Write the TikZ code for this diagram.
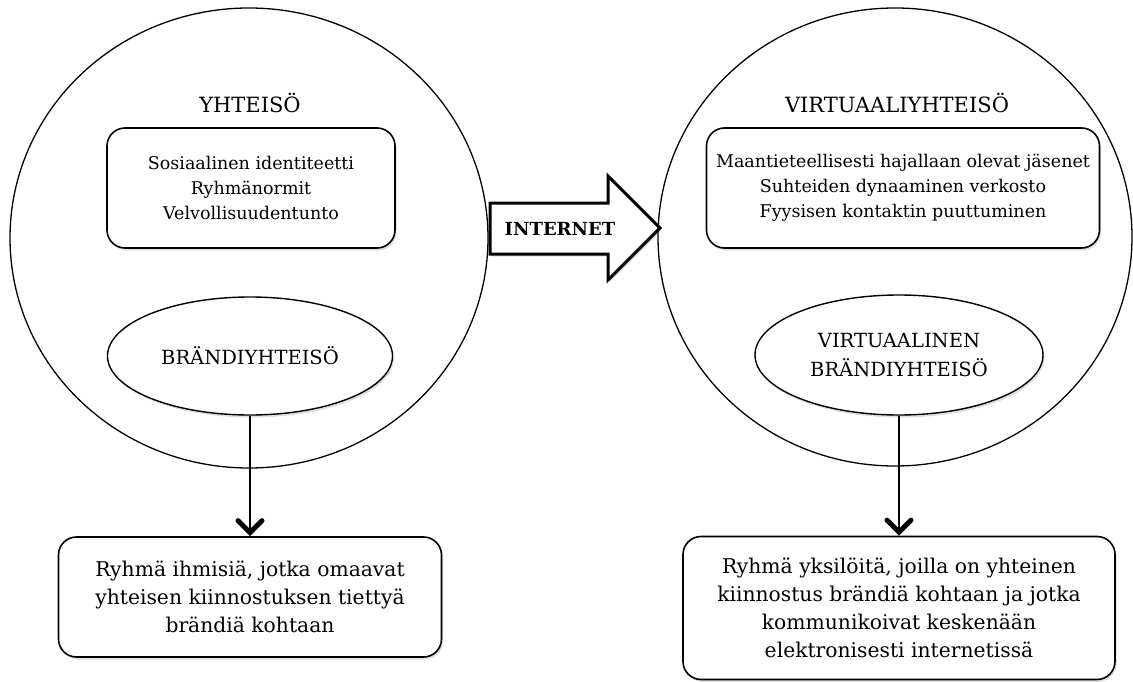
\documentclass[tikz,border=0pt]{standalone}
\usepackage{fontspec}
\setmainfont{DejaVu Serif}
\usetikzlibrary{shapes.geometric,shadows,arrows.meta}
\begin{document}
\begin{tikzpicture}[x=1pt,y=-1pt,
  ring/.style={draw, ellipse, line width=1.3pt, inner sep=0pt},
  soft/.style={drop shadow={opacity=0.25, shadow xshift=1.5pt, shadow yshift=-2.5pt}},
  infobox/.style={draw, fill=white, rounded corners=18pt, line width=1.6pt, soft,
    align=center, font=\fontsize{17.5}{25}\selectfont, inner sep=0pt},
  brand/.style={draw, fill=white, ellipse, line width=1.4pt, soft, inner sep=0pt,
    align=center, font=\fontsize{19.5}{29}\selectfont},
  result/.style={draw, fill=white, rounded corners=18pt, line width=1.6pt, soft,
    align=center, font=\fontsize{20.3}{28}\selectfont, inner sep=0pt},
  title/.style={font=\fontsize{21}{25}\selectfont},
  conn/.style={line width=2pt, -{Straight Barb[length=12pt,width=24pt,line width=5pt,line cap=round]}}
]
\useasboundingbox (0,0) rectangle (1133,682);

% two communities
\node[ring, minimum width=478pt, minimum height=460pt] (c1) at (249,238) {};
\node[ring, minimum width=474pt, minimum height=458pt] (c2) at (895,237) {};

% titles
\node[title] (t1) at (250,103) {YHTEISÖ};
\node[title] (t2) at (897,103) {VIRTUAALIYHTEISÖ};

% characteristics
\node[infobox, minimum width=288pt, minimum height=120pt] (f1) at (251,188)
  {Sosiaalinen identiteetti\\Ryhmänormit\\Velvollisuudentunto};
\node[infobox, minimum width=393pt, minimum height=120pt] (f2) at (903,188)
  {Maantieteellisesti hajallaan olevat jäsenet\\Suhteiden dynaaminen verkosto\\Fyysisen kontaktin puuttuminen};

% brand communities
\node[brand, minimum width=285pt, minimum height=118pt] (e1) at (250,356) {BRÄNDIYHTEISÖ};
\node[brand, minimum width=288pt, minimum height=120pt] (e2) at (899,355) {VIRTUAALINEN\\BRÄNDIYHTEISÖ};

% definitions
\node[result, minimum width=383pt, minimum height=120pt] (d1) at (250,597)
  {Ryhmä ihmisiä, jotka omaavat\\yhteisen kiinnostuksen tiettyä\\brändiä kohtaan};
\node[result, minimum width=432pt, minimum height=143pt] (d2) at (899,608)
  {Ryhmä yksilöitä, joilla on yhteinen\\kiinnostus brändiä kohtaan ja jotka\\kommunikoivat keskenään\\elektronisesti internetissä};

\draw[conn] (e1.south) -- (d1.north);
\draw[conn] (e2.south) -- (d2.north);

% block arrow between the communities
\draw[line width=3pt, fill=white, miter limit=10, soft]
  (490,203) -- (608,203) -- (608,176) -- (660,228) -- (608,280) -- (608,254) -- (490,254) -- cycle;
\node[font=\fontsize{18}{22}\selectfont\bfseries] (net) at (560,229) {INTERNET};
\end{tikzpicture}
\end{document}
